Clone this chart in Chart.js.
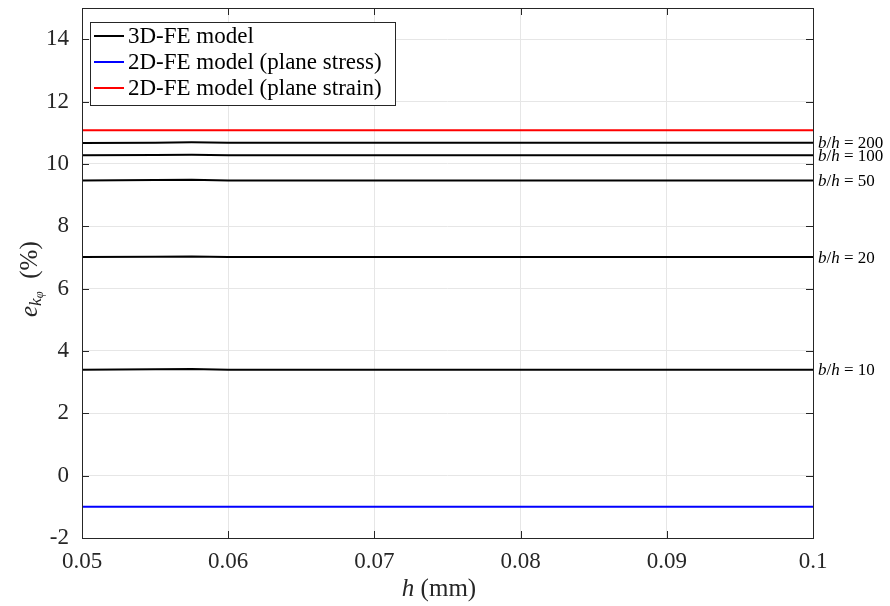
<!DOCTYPE html>
<html>
<head>
<meta charset="utf-8">
<script src="https://cdn.jsdelivr.net/npm/chart.js@4/dist/chart.umd.min.js"></script>
<style>
  html, body { margin: 0; padding: 0; background: #fff; }
  #wrap { width: 890px; height: 606px; }
</style>
</head>
<body>
<div id="wrap"><canvas id="myChart" width="890" height="606"></canvas></div>
<script>
// h (mm) sample points
var hValues = [0.05, 0.055, 0.0575, 0.06, 0.07, 0.08, 0.09, 0.1];

// 3D-FE results, one per b/h ratio
var ratios = [200, 100, 50, 20, 10];
var fe3d_200 = [10.67, 10.68, 10.69, 10.675, 10.675, 10.675, 10.675, 10.675];
var fe3d_100 = [10.28, 10.285, 10.29, 10.28, 10.28, 10.28, 10.28, 10.28];
var fe3d_50 = [9.47, 9.48, 9.49, 9.47, 9.47, 9.47, 9.47, 9.47];
var fe3d_20 = [7.01, 7.02, 7.03, 7.01, 7.01, 7.01, 7.01, 7.01];
var fe3d_10 = [3.40, 3.41, 3.42, 3.40, 3.40, 3.40, 3.40, 3.40];

// 2D-FE results
var fe2dStress = [-1.0, -1.0, -1.0, -1.0, -1.0, -1.0, -1.0, -1.0];
var fe2dStrain = [11.08, 11.08, 11.08, 11.08, 11.08, 11.08, 11.08, 11.08];

var xTicks = [0.05, 0.06, 0.07, 0.08, 0.09, 0.1];
var yTicks = [-2, 0, 2, 4, 6, 8, 10, 12, 14];

var serif = '"Liberation Serif", "DejaVu Serif", serif';

function pts(arr) {
    return hValues.map(function(h, i) { return { x: h, y: arr[i] }; });
}

var fe3dSets = [fe3d_200, fe3d_100, fe3d_50, fe3d_20, fe3d_10];
var datasets = fe3dSets.map(function(arr, i) {
    return {
        label: '3D-FE model',
        data: pts(arr),
        borderColor: '#000000',
        borderWidth: 2,
        pointRadius: 0,
        tension: 0
    };
});
datasets.push({ label: '2D-FE model (plane stress)', data: pts(fe2dStress), borderColor: '#0000ff', borderWidth: 2, pointRadius: 0 });
datasets.push({ label: '2D-FE model (plane strain)', data: pts(fe2dStrain), borderColor: '#ff0000', borderWidth: 2, pointRadius: 0 });

var legendItems = [
    { label: '3D-FE model', color: '#000000' },
    { label: '2D-FE model (plane stress)', color: '#0000ff' },
    { label: '2D-FE model (plane strain)', color: '#ff0000' }
];

// draw a run of text pieces, some italic
function drawRich(ctx, parts, x, y, size) {
    parts.forEach(function(p) {
        var fs = size * (p.scale || 1);
        ctx.font = (p.italic ? 'italic ' : '') + fs + 'px ' + serif;
        ctx.fillText(p.text, x, y + (p.dy || 0));
        x += ctx.measureText(p.text).width;
    });
    return x;
}

var framePlugin = {
    id: 'frame',
    afterDraw: function(chart) {
        var ctx = chart.ctx;
        var a = chart.chartArea;
        var xs = chart.scales.x, ys = chart.scales.y;
        ctx.save();
        // inward ticks on all four sides
        ctx.strokeStyle = '#262626';
        ctx.lineWidth = 1;
        ctx.beginPath();
        xTicks.forEach(function(v) {
            var px = Math.round(xs.getPixelForValue(v)) + 0.5;
            ctx.moveTo(px, a.bottom); ctx.lineTo(px, a.bottom - 7);
            ctx.moveTo(px, a.top); ctx.lineTo(px, a.top + 7);
        });
        yTicks.forEach(function(v) {
            var py = Math.round(ys.getPixelForValue(v)) + 0.5;
            ctx.moveTo(a.left, py); ctx.lineTo(a.left + 7, py);
            ctx.moveTo(a.right, py); ctx.lineTo(a.right - 7, py);
        });
        ctx.stroke();
        ctx.strokeRect(Math.round(a.left) + 0.5, Math.round(a.top) + 0.5,
            Math.round(a.right - a.left), Math.round(a.bottom - a.top));

        // legend box
        var lx = 90, ly = 22, lw = 305, lh = 83;
        ctx.fillStyle = '#ffffff';
        ctx.fillRect(lx, ly, lw, lh);
        ctx.strokeStyle = '#262626';
        ctx.strokeRect(lx + 0.5, ly + 0.5, lw, lh);
        ctx.textBaseline = 'middle';
        ctx.textAlign = 'left';
        legendItems.forEach(function(item, i) {
            var y = 36 + i * 26;
            ctx.strokeStyle = item.color;
            ctx.lineWidth = 2;
            ctx.beginPath();
            ctx.moveTo(94, y); ctx.lineTo(124, y);
            ctx.stroke();
            ctx.fillStyle = '#000';
            ctx.font = '23px ' + serif;
            ctx.fillText(item.label, 128, y + 1);
        });

        // b/h labels at right end of each 3D line
        ctx.fillStyle = '#000';
        fe3dSets.forEach(function(arr, i) {
            var y = ys.getPixelForValue(arr[arr.length - 1]) + 1;
            drawRich(ctx, [
                { text: 'b', italic: true },
                { text: '/' },
                { text: 'h', italic: true },
                { text: ' = ' + ratios[i] }
            ], a.right + 5, y, 17);
        });

        // x axis title
        ctx.fillStyle = '#262626';
        ctx.textBaseline = 'middle';
        ctx.font = '25px ' + serif;
        var tw = ctx.measureText('h (mm)').width;
        drawRich(ctx, [{ text: 'h', italic: true }, { text: ' (mm)' }],
            439 - tw / 2, 589, 25);

        // y axis title, rotated
        ctx.translate(30, (a.top + a.bottom) / 2 + 6);
        ctx.rotate(-Math.PI / 2);
        var yt = [
            { text: 'e', italic: true },
            { text: 'k', italic: true, scale: 0.7, dy: 6 },
            { text: '\u03c6', italic: true, scale: 0.5, dy: 10 },
            { text: '  (%)' }
        ];
        drawRich(ctx, yt, -38, 0, 25);
        ctx.restore();
    }
};

var ctx = document.getElementById('myChart');
var myChart = new Chart(ctx, {
    type: 'line',
    data: { datasets: datasets },
    options: {
        responsive: false,
        animation: false,
        layout: { padding: { left: 0, right: 77, top: 8, bottom: 0 } },
        plugins: { legend: { display: false }, tooltip: { enabled: false } },
        scales: {
            x: {
                type: 'linear',
                min: 0.05,
                max: 0.1,
                afterBuildTicks: function(scale) {
                    scale.ticks = xTicks.map(function(v) { return { value: v }; });
                },
                afterFit: function(scale) {
                    scale.height = 68;
                    scale.paddingLeft = 0;
                    scale.paddingRight = 0;
                },
                grid: { color: '#e6e6e6', drawTicks: false },
                border: { display: false },
                ticks: {
                    padding: 10,
                    color: '#262626',
                    font: { family: serif, size: 23 },
                    maxRotation: 0,
                    callback: function(v) { return String(parseFloat(v.toFixed(3))); }
                }
            },
            y: {
                min: -2,
                max: 15,
                afterBuildTicks: function(scale) {
                    scale.ticks = yTicks.map(function(v) { return { value: v }; });
                },
                afterFit: function(scale) {
                    scale.width = 82;
                    scale.paddingTop = 0;
                    scale.paddingBottom = 0;
                },
                grid: { color: '#e6e6e6', drawTicks: false },
                border: { display: false },
                ticks: {
                    padding: 13,
                    color: '#262626',
                    font: { family: serif, size: 23 },
                    callback: function(v) { return String(v); }
                }
            }
        }
    },
    plugins: [framePlugin]
});
</script>
</body>
</html>
